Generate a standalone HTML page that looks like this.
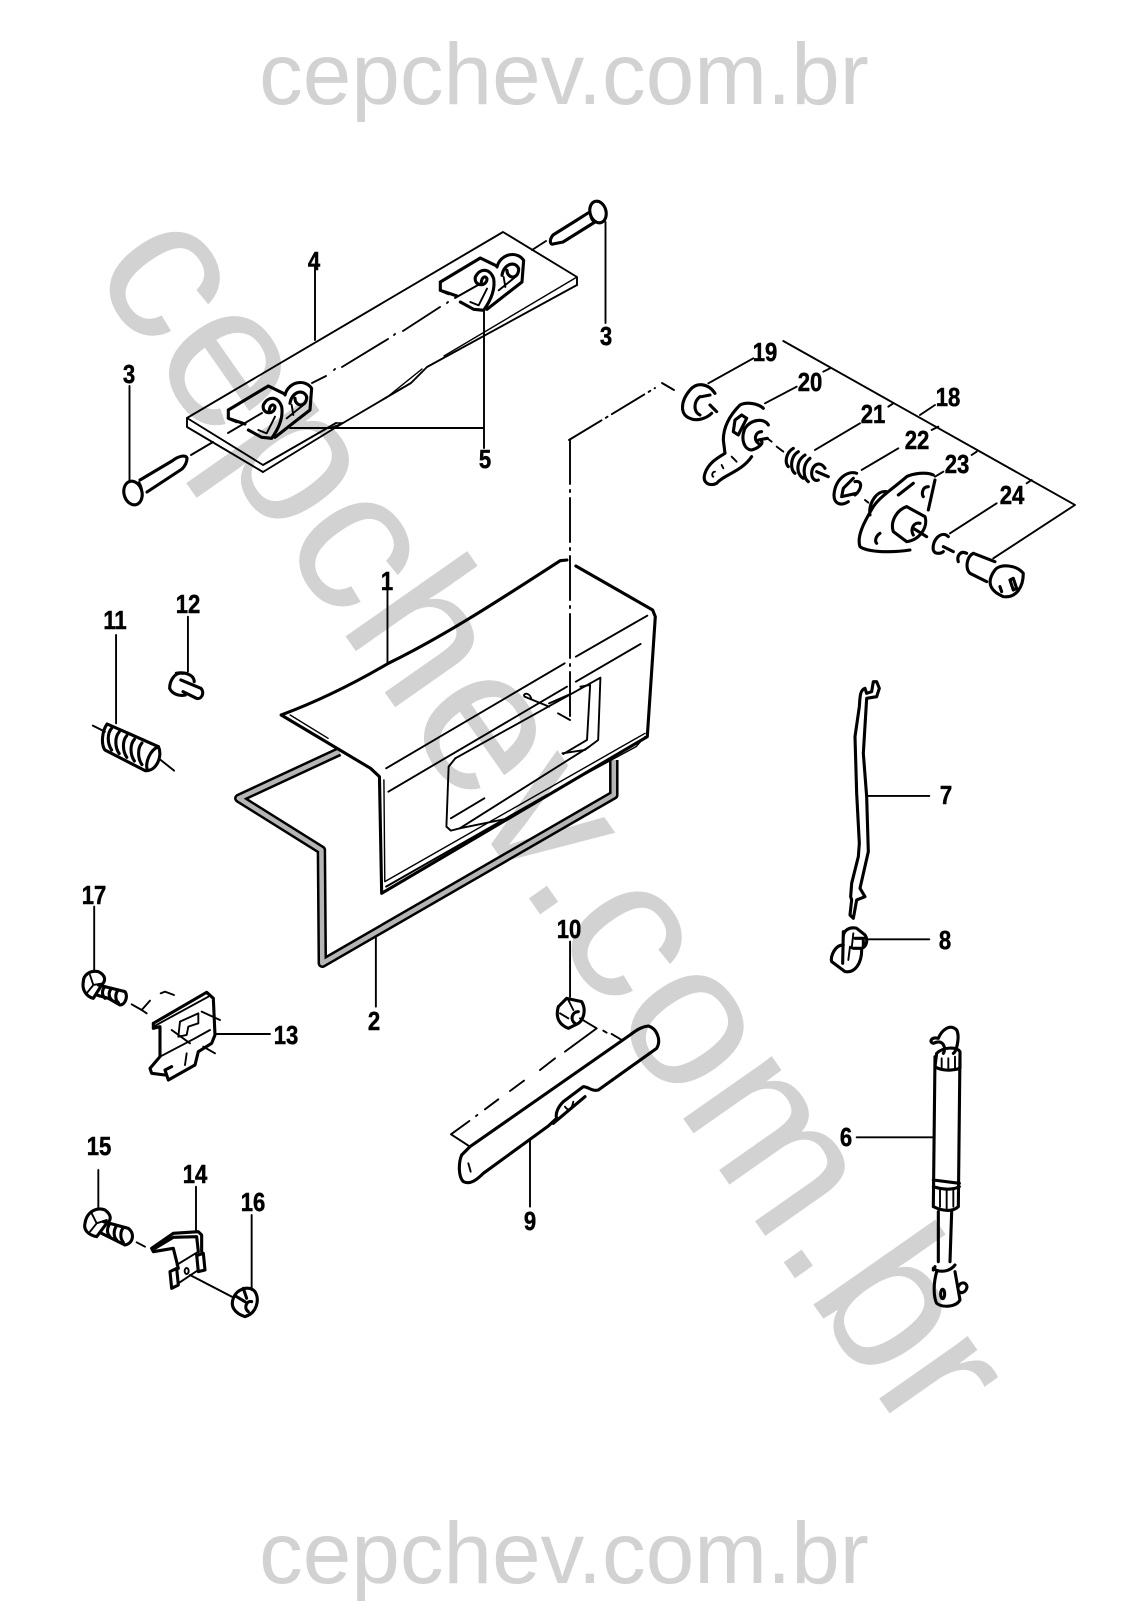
<!DOCTYPE html>
<html><head><meta charset="utf-8"><style>
html,body{margin:0;padding:0;background:#fff}
svg{display:block}
.a path,.a line,.a ellipse{fill:none;stroke:#000;stroke-width:1.9;vector-effect:non-scaling-stroke;stroke-linecap:round;stroke-linejoin:round}
.a .t{stroke-width:3.1}
.a .n{stroke-width:1.4}
.w{font-family:"Liberation Sans",sans-serif;fill:#d2d2d2}
.l{font-family:"Liberation Sans",sans-serif;font-weight:bold;font-size:26px;fill:#000;stroke:#000;stroke-width:.5;text-anchor:middle}
</style></head><body>
<svg width="1122" height="1624" viewBox="0 0 1122 1624" xmlns="http://www.w3.org/2000/svg">
<text class="w" x="564" y="104" font-size="87.300" text-anchor="middle">cepchev.com.br</text>
<text class="w" x="564" y="1583" font-size="87.300" text-anchor="middle">cepchev.com.br</text>
<text class="w" font-size="205" transform="translate(89,270) rotate(55)">cepchev.com.br</text>

<g class="a">
<!-- hinge plate -->
<path d="M187,418 L503,232 L577,277 L577,285"/>
<path d="M187,418 L187,427 L263,472 M187,418 L263,465 L336,423"/>
<path d="M263,472 L343,423 L411,383 L427,367 L577,285"/>
<path class="n" d="M444,356 L577,277 M386,398 L422,369"/>
<path class="n" d="M336,423 L343,423 L330,428"/>
<!-- hinges -->
<g transform="translate(180,350) scale(.3333)">
<path class="t" d="M145,180 L265,108 L310,130 M145,180 L145,205 L170,215 M145,205 L195,222"/>
<path class="t" d="M205,240 L245,262 L275,265 C300,230 310,200 305,170 C295,140 265,135 250,165 C245,195 285,195 285,170 C280,160 270,165 268,180"/>
<path d="M235,240 L260,250 L285,200"/>
<path class="t" d="M315,135 C325,95 375,85 395,115 L390,180 L345,215 L285,262"/>
<path class="t" d="M330,160 C335,125 370,115 380,140 C380,175 345,170 345,145"/>
<path d="M320,205 L370,165 M335,165 L340,195"/>
</g>
<g transform="translate(392,222) scale(.3333)">
<path class="t" d="M145,180 L265,108 L310,130 M145,180 L145,205 L170,215 M145,205 L195,222"/>
<path class="t" d="M205,240 L245,262 L275,265 C300,230 310,200 305,170 C295,140 265,135 250,165 C245,195 285,195 285,170 C280,160 270,165 268,180"/>
<path d="M235,240 L260,250 L285,200"/>
<path class="t" d="M315,135 C325,95 375,85 395,115 L390,180 L345,215 L285,262"/>
<path class="t" d="M330,160 C335,125 370,115 380,140 C380,175 345,170 345,145"/>
<path d="M320,205 L370,165 M335,165 L340,195"/>
</g>
<!-- hinge axis -->
<path d="M191,455 L213,442 M228,433 L262,413 M312,383 L326,376 M334,370 L335,369 M342,367 L388,339 M394,335 L395,334 M403,331 L440,307 M447,303 L448,302 M455,298 L478,285 M532,250 L546,241"/>
<!-- screws -->
<path class="t" d="M553,235 L577,220 L588,213 M553,235 C549,240 550,245 553,244 L563,242 L595,222"/>
<ellipse class="t" cx="598" cy="212" rx="8" ry="11" transform="rotate(-15 598 212)"/>
<path d="M592,204 C588,210 590,220 594,222"/>
<path class="t" d="M140,480 L172,461 C180,455 186,455 187,458 C187,463 184,467 182,469 L147,492"/>
<ellipse class="t" cx="133" cy="493" rx="9" ry="12" transform="rotate(-15 133 493)"/>
<path d="M139,482 C143,488 143,494 140,502"/>
<!-- leaders top -->
<path d="M315,267 L315,340 M605.500,222 L605.500,323 M129.500,386 L129.500,480 M484,312 L484,448 M290,428 L484,428"/>

<!-- dashed to lid -->
<path d="M569,440 L655,388" stroke-dasharray="38 5 2 5"/>
<path d="M662,383 L674,390"/>
<path d="M570,440 L570,720" stroke-dasharray="44 6 2 6"/>

<!-- z2: lid, seal, 11, 12, 17, 10 leader -->
<g transform="translate(0,550) scale(.4464,.3333)">
<path style="stroke:#000;stroke-width:9.500;stroke-linecap:butt;stroke-linejoin:round" d="M760,605 L535,745 L720,900 L722,1240 L1375,735 L1375,630"/>
<path style="stroke:#b5b5b5;stroke-width:4.500;stroke-linecap:butt;stroke-linejoin:round" d="M760,605 L535,745 L720,900 L722,1240 L1375,735 L1375,630"/>
<path class="t" d="M630,495 C720,450 800,395 870,340 C1000,255 1130,140 1255,32 L1270,30"/>
<path class="t" d="M1290,48 L1462,180 L1468,200 L1450,560 L855,1030 L850,680 L830,655 L630,495"/>
<path class="n" d="M650,495 L735,565"/>
<path class="n" d="M860,690 L862,995 L1445,550 M1425,590 L1445,560 M1225,735 L1425,590"/>
<path d="M865,1010 L1225,735"/>
<path d="M865,655 L1265,340 M1290,320 L1450,197"/>
<path d="M870,725 L1270,410 M1290,395 L1435,282"/>
<path d="M1020,625 L1345,383 L1340,570 L1310,600 L1260,610"/>
<path d="M1020,625 L1005,650 L1000,830 L1010,842 L1030,835 L1320,590"/>
<path d="M1300,410 L1322,405 L1315,570 L1262,612"/>
<path d="M1010,805 L1085,745 M1030,835 L1140,805"/>
<path d="M1175,440 C1170,430 1185,425 1190,445 M1175,440 L1230,470 M1230,460 L1278,432 M1250,490 L1277,510"/>
<!-- 12 -->
<path d="M421,200 L421,365"/>
<path class="t" d="M410,370 C390,365 380,395 380,415 C385,430 400,440 415,435 M395,370 C415,365 435,375 435,395 M405,390 L450,415 C460,430 450,450 440,445 L410,425"/>
<!-- 11 -->
<path d="M260,255 L260,520 M208,527 L235,545 M360,630 L390,662"/>
<path class="t" d="M240,522 L355,590 C365,620 350,665 325,662 L235,600 C225,580 230,540 240,522 Z M355,590 C335,600 325,640 330,660"/>
<path class="t" d="M250,535 C240,550 240,580 250,600 M267,546 C257,561 257,591 267,611 M284,557 C274,572 274,602 284,622 M301,568 C291,583 291,613 301,633 M318,579 C308,594 308,624 318,644"/>
<path d="M211,1070 L211,1260"/>
<path d="M842,1160 L842,1370"/>
<path d="M868,120 L868,340"/>
<path d="M1277,1175 L1277,1340"/>
</g>

<!-- z4 lock -->
<g transform="translate(680,340) scale(.3333)">
<path d="M310,3 L1185,495 L940,655 M720,225 L765,195 M85,130 L220,55 M255,190 L350,140 M430,95 L450,85 M405,330 L540,250 M625,200 L640,190 M545,390 L655,325 M755,270 L775,260 M765,410 L790,395 M875,345 L890,335 M810,580 L950,490 M1040,430 L1055,420"/>
<path class="t" d="M105,160 C85,130 50,125 30,150 C0,185 0,225 30,235 C50,245 80,235 95,220 M60,170 C40,185 40,215 60,225 M65,170 L90,165 M90,195 L110,215"/>
<path class="t" d="M250,205 C235,190 200,185 180,195 C150,225 130,260 130,300 L135,340 C110,355 85,370 75,400 C65,430 90,440 110,430 C130,405 185,395 215,350"/>
<path class="t" d="M165,240 L185,225 L200,235 L175,285 L160,275 Z M265,255 C255,235 215,235 195,265 C180,300 195,330 215,330 C235,325 250,310 245,305 M245,275 C225,275 220,300 235,310 M235,300 L262,295"/>
<path d="M105,395 C95,395 95,410 100,410 M125,375 L130,385 M155,350 L170,365"/>
<path d="M262,295 L275,305 M290,320 L310,335"/>
<path class="t" d="M340,325 C315,340 315,370 325,380 M355,335 C330,350 330,390 345,400 M375,345 C345,365 350,405 370,415 M390,355 C365,375 370,415 385,425 M435,385 C420,360 395,375 395,400 C395,415 405,425 415,420 M410,395 L445,410"/>
<path class="t" d="M530,400 C500,390 465,420 462,465 C462,490 480,500 505,485 M520,415 L490,445 L485,470 L530,460 M525,425 C550,420 545,450 525,465"/>
<path d="M555,480 L565,488"/>
<path class="t" d="M760,405 C740,395 700,400 680,410 C640,445 600,470 580,500 C550,550 530,590 540,620 C560,635 620,640 690,630 M765,420 L745,510 M570,525 C565,490 590,450 620,455 M680,500 L735,530 C745,560 720,600 680,605 L640,575 C630,545 650,510 680,500 M720,550 C700,545 690,570 700,585 M700,565 L740,590 M745,440 C725,440 725,465 730,470 M600,580 C585,590 585,605 590,610 M655,465 L700,430"/>
<path class="t" d="M805,590 C785,570 755,600 760,630 C765,645 785,640 790,635 M790,620 L820,635 M860,640 C840,630 830,650 835,665 M880,640 L945,665 M880,640 C860,650 855,685 870,700 L920,725 M945,690 C960,670 1010,675 1030,700 C1030,740 1010,775 970,770 C935,755 915,730 945,690 M990,720 L1000,715 L1010,745 L1000,750 Z M960,740 L965,755"/>
</g>

<!-- z7 13,17 -->
<g transform="translate(70,960) scale(.3333)">
<path class="t" d="M40,65 C40,45 60,30 85,35 C105,45 110,60 95,75 L70,115 C50,110 35,90 40,65 M85,75 L165,95 C175,110 165,135 150,135 L115,115 L80,105 M105,80 C95,90 95,105 105,115 M125,85 C115,95 115,110 125,120 M145,90 C135,100 135,120 145,128"/>
<path d="M60,45 L70,75 L50,100 M70,75 L100,70"/>
<path d="M185,133 L215,150 L240,122 M215,150 L230,160 M272,100 L285,95 L312,105"/>
<path class="t" d="M250,190 L410,97 L430,115 L435,225 L425,250 L385,275 L375,315 L295,360 L285,330 L305,320 M250,190 L250,205 M250,205 L270,200 L270,290 L240,325 L245,340 L285,345"/>
<path d="M250,200 L415,110 M270,290 L375,235 M375,235 L420,210 M330,185 L385,160 L385,190 L355,200 L350,225 L325,230 L330,185 M305,210 L360,250 M395,155 L450,180 M400,260 L435,280 M350,280 L345,315"/>
<path d="M435,222 L600,222"/>
</g>

<!-- z8 14,15,16 -->
<g transform="translate(70,1180) scale(.3333)">
<path class="t" d="M45,130 C50,95 80,80 105,90 C125,105 125,120 110,130 L80,170 C55,165 40,150 45,130 M100,125 L175,145 C195,160 190,190 165,195 L95,160 M120,130 C110,145 110,160 120,170 M140,137 C130,150 130,170 140,180 M160,143 C150,155 150,175 160,187"/>
<path d="M65,100 L80,130 L60,155 M80,130 L110,120"/>
<path d="M200,187 L225,200 M360,285 L485,350 M85,-30 L85,85 M378,20 L378,155 M545,105 L545,330"/>
<path class="t" d="M245,205 L310,160 L385,155 L395,165 L395,215 M245,205 L250,215 L310,205 L325,265 M255,205 L310,172 L380,170 L385,215 M385,225 L400,220 L405,270 L385,275 L380,225 M300,275 L320,265 L325,315 L305,325 Z"/>
<path d="M320,255 L385,215 M325,310 L385,270"/>
<ellipse cx="350" cy="273" rx="6" ry="9"/>
<path class="t" d="M490,355 C500,325 540,315 555,335 C570,360 560,400 525,410 C495,400 480,380 490,355 M545,365 C530,360 520,385 535,395 M500,350 L525,365 M520,325 L530,355"/>
</g>

<!-- z9 strut -->
<g transform="translate(900,1010) scale(.3333)">
<path class="t" d="M105,140 L100,590 M180,125 L175,590 M110,130 C130,110 170,110 180,125 L180,175 C150,185 120,180 105,170 Z M130,130 C140,115 130,85 100,100 C85,95 95,80 115,85 C125,60 150,40 170,60 C180,80 170,125 160,130 M100,510 L178,520 M100,530 C130,540 160,540 178,530 M100,590 C130,605 160,605 175,590 M115,605 L115,755 M155,605 L150,755 M100,775 C120,790 150,785 165,765 M105,770 L100,780 M110,785 C100,820 100,860 110,880 C130,895 170,890 180,870 L165,785 M175,830 C185,810 205,820 200,835 C195,850 180,850 178,845"/>
<path d="M125,145 L125,175 M145,145 L145,178 M165,140 L165,175 M120,540 L120,590 M140,540 L140,595 M160,540 L160,590"/>
<ellipse class="t" cx="128" cy="852" rx="6" ry="14"/>
<path d="M-130,382 L100,382"/>
</g>

<!-- z10 rod -->
<g transform="translate(810,670) scale(.3333)">
<path class="t" d="M165,55 C150,60 150,80 148,110 L135,200 L140,370 L148,520 L145,560 L125,640 L122,680 L125,690 L120,735 L130,745 L140,690 L165,680 L150,655 L175,545 L170,380 L160,250 L170,85 L200,80 L208,55 L200,35 L190,35 L185,65 L170,70 L165,55"/>
<path d="M172,378 L358,378 M170,808 L358,808"/>
<path class="t" d="M100,800 C100,780 120,770 140,775 L165,795 C175,810 170,830 155,835 L130,835 M100,785 L98,880 M135,805 L160,805 L160,830 M100,825 C75,825 60,860 65,875 L105,905 C135,910 155,880 155,840"/>
<path d="M130,790 L125,835 M120,830 L115,870"/>
</g>

<!-- z11 grab -->
<g transform="translate(440,990) scale(.3333)">
<path class="t" d="M380,25 L425,35 C440,60 430,90 415,100 L385,115 C360,105 345,85 355,50 Z M415,65 C395,65 390,90 405,100"/>
<path d="M360,70 L385,85 M385,30 L400,60"/>
<path class="t" d="M90,470 L65,495 C55,520 55,560 70,575 C90,585 110,570 130,550 L325,408 L350,385 C345,370 355,350 370,335 L430,290 C445,290 455,305 475,300 L650,175 C665,150 650,115 625,108 C605,110 590,120 570,135 L90,470 M340,400 L435,320"/>
<path d="M375,350 C385,365 395,360 400,335 M85,520 L92,545"/>
<path d="M420,85 L470,115 L375,185 M490,122 L500,128 M515,132 L545,150 M345,205 L300,240 M252,272 L210,303 M175,328 L135,358 M112,375 L108,378 M88,393 L33,433 L90,470"/>
<path d="M270,450 L270,650"/>
</g>
</g>

<g>
<text class="l" transform="translate(314,270) scale(.85,1)">4</text>
<text class="l" transform="translate(606,345) scale(.85,1)">3</text>
<text class="l" transform="translate(129,383) scale(.85,1)">3</text>
<text class="l" transform="translate(485,468) scale(.85,1)">5</text>
<text class="l" transform="translate(765,361) scale(.85,1)">19</text>
<text class="l" transform="translate(810,391) scale(.85,1)">20</text>
<text class="l" transform="translate(873,423) scale(.85,1)">21</text>
<text class="l" transform="translate(917,449) scale(.85,1)">22</text>
<text class="l" transform="translate(957,473) scale(.85,1)">23</text>
<text class="l" transform="translate(1012,504) scale(.85,1)">24</text>
<text class="l" transform="translate(948,406) scale(.85,1)">18</text>
<text class="l" transform="translate(387,590) scale(.85,1)">1</text>
<text class="l" transform="translate(188,613) scale(.85,1)">12</text>
<text class="l" transform="translate(115,629) scale(.85,1)">11</text>
<text class="l" transform="translate(94,904) scale(.85,1)">17</text>
<text class="l" transform="translate(569,938) scale(.85,1)">10</text>
<text class="l" transform="translate(374,1030) scale(.85,1)">2</text>
<text class="l" transform="translate(286,1044) scale(.85,1)">13</text>
<text class="l" transform="translate(99,1155) scale(.85,1)">15</text>
<text class="l" transform="translate(195,1183) scale(.85,1)">14</text>
<text class="l" transform="translate(253,1211) scale(.85,1)">16</text>
<text class="l" transform="translate(530,1230) scale(.85,1)">9</text>
<text class="l" transform="translate(846,1146) scale(.85,1)">6</text>
<text class="l" transform="translate(946,804) scale(.85,1)">7</text>
<text class="l" transform="translate(945,949) scale(.85,1)">8</text>
</g>
</svg>
</body></html>
